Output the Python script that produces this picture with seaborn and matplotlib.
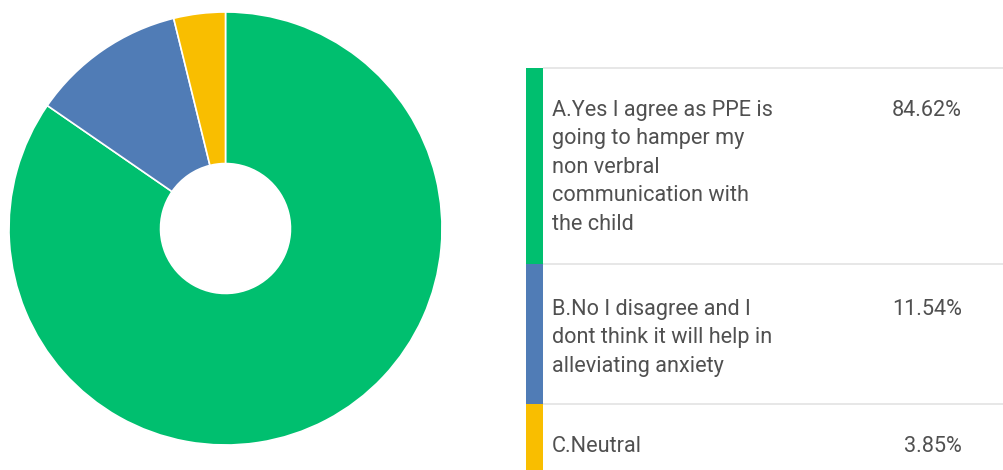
import matplotlib
matplotlib.use("Agg")
import matplotlib.pyplot as plt
import seaborn as sns
from matplotlib.patches import Rectangle

# ---- data ----
categories = [
    "A.Yes I agree as PPE is\ngoing to hamper my\nnon verbral\ncommunication with\nthe child",
    "B.No I disagree and I\ndont think it will help in\nalleviating anxiety",
    "C.Neutral",
]
values = [84.62, 11.54, 3.85]
colors = ["#00BF6F", "#507CB6", "#F9BE00"]

sns.set_theme(style="white")
plt.rcParams["font.family"] = ["Roboto", "DejaVu Sans"]

W, H = 1004, 470
fig = plt.figure(figsize=(W / 100, H / 100), dpi=100)
fig.patch.set_facecolor("white")

# donut
cx, cy, r = 225.5, 228.5, 216.5
ax = fig.add_axes([(cx - r) / W, (H - cy - r) / H, 2 * r / W, 2 * r / H])
ax.pie(values, colors=colors, startangle=90, counterclock=False, radius=1,
       wedgeprops=dict(width=0.70, edgecolor="white", linewidth=1.2))
ax.set_xlim(-1, 1)
ax.set_ylim(-1, 1)
ax.set_aspect("equal")
ax.axis("off")

# legend table (pixel coords overlay)
lax = fig.add_axes([0, 0, 1, 1], zorder=-1)
lax.set_xlim(0, W)
lax.set_ylim(H, 0)
lax.axis("off")

row_tops = [68, 264, 404]
row_bottoms = [264, 404, 472]
first_baselines = [116, 315, 452]
line_step = 28.4
text_color = "#505050"
fs = 15.6

for i, (lab, v, c) in enumerate(zip(categories, values, colors)):
    top, bot = row_tops[i], row_bottoms[i]
    lax.add_patch(Rectangle((526, top), 17, bot - top, facecolor=c, edgecolor="none"))
    lax.plot([543, W], [top, top], color="#e3e3e3", lw=1.2, solid_capstyle="butt")
    for j, line in enumerate(lab.split("\n")):
        lax.text(552, first_baselines[i] + j * line_step, line, fontsize=fs,
                 color=text_color, va="baseline", ha="left")
    lax.text(962, first_baselines[i], f"{v:.2f}%", fontsize=fs,
             color=text_color, va="baseline", ha="right")

fig.savefig("out.png", dpi=100, facecolor="white")
